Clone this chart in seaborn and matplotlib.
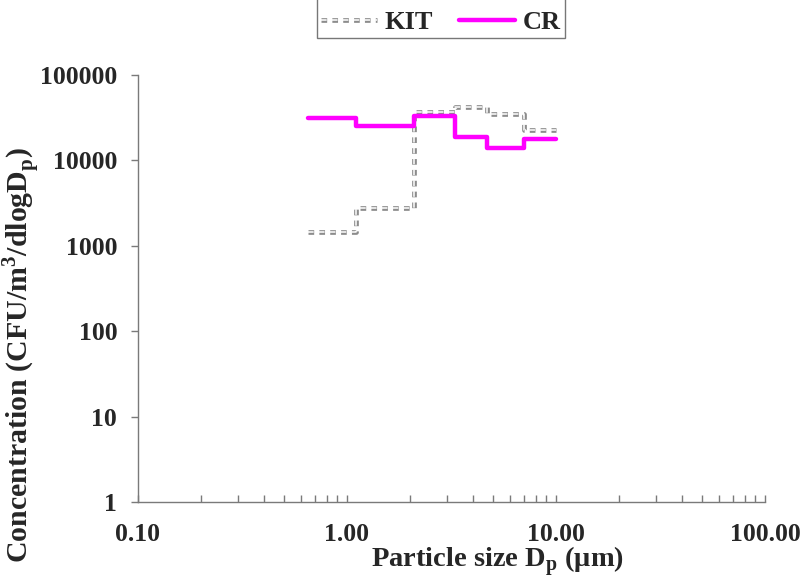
import matplotlib
matplotlib.use('Agg')
import matplotlib.pyplot as plt
import matplotlib.patheffects as pe
from matplotlib.ticker import FixedLocator, FuncFormatter, LogLocator, NullLocator
import pandas as pd
import seaborn as sns

# Bornes des étages (µm) et concentrations (CFU/m3/dlogDp)
bin_edges = [0.65, 1.1, 2.1, 3.3, 4.7, 7.0, 10.0]
kit_conc = [1450, 2800, 37000, 42000, 35000, 23000]
cr_conc = [31000, 25000, 33000, 19000, 14000, 18000]

x_ticks = [0.1, 1, 10, 100]
y_ticks = [1, 10, 100, 1000, 10000, 100000]

sns.set_style('white')
plt.rcParams['font.family'] = ['Liberation Serif', 'DejaVu Serif']
plt.rcParams['font.weight'] = 'bold'

# steps-post: on répète la dernière valeur pour fermer le dernier étage
df_kit = pd.DataFrame({'dp': bin_edges, 'conc': kit_conc + kit_conc[-1:]})
df_cr = pd.DataFrame({'dp': bin_edges, 'conc': cr_conc + cr_conc[-1:]})

fig = plt.figure(figsize=(8.02, 5.84), dpi=100)
ax = fig.add_axes([138 / 802, 1 - 502 / 584, (765 - 138) / 802, (502 - 75) / 584])

double = [pe.Stroke(linewidth=3.4, foreground='#8c8c8c'),
          pe.Stroke(linewidth=1.1, foreground='white')]
sns.lineplot(data=df_kit, x='dp', y='conc', ax=ax, drawstyle='steps-post',
             color='#8c8c8c', linewidth=3.4, dashes=False, linestyle=(0, (1.2, 1.1)),
             path_effects=double, label='KIT')
sns.lineplot(data=df_cr, x='dp', y='conc', ax=ax, drawstyle='steps-post',
             color='#ff00ff', linewidth=3.2, label='CR')

ax.set_xscale('log')
ax.set_yscale('log')
ax.set_xlim(0.1, 100)
ax.set_ylim(1, 100000)

ax.xaxis.set_major_locator(FixedLocator(x_ticks))
ax.xaxis.set_minor_locator(LogLocator(base=10, subs=range(2, 10)))
ax.xaxis.set_major_formatter(FuncFormatter(lambda v, p: f'{v:.2f}'))
ax.yaxis.set_major_locator(FixedLocator(y_ticks))
ax.yaxis.set_minor_locator(NullLocator())
ax.yaxis.set_major_formatter(FuncFormatter(lambda v, p: f'{int(v)}'))

axis_col = '#7a7a7a'
for side in ['top', 'right']:
    ax.spines[side].set_visible(False)
for side in ['left', 'bottom']:
    ax.spines[side].set_color(axis_col)
    ax.spines[side].set_linewidth(1.0)

ax.tick_params(axis='x', which='both', direction='in', length=5, width=1,
               color=axis_col, labelsize=18.5, pad=15, bottom=True)
ax.tick_params(axis='y', which='major', direction='out', length=5, width=1,
               color=axis_col, labelsize=18.5, pad=10, left=True)
for lab in ax.get_xticklabels() + ax.get_yticklabels():
    lab.set_fontweight('bold')

ax.set_xlabel(r'Particle size D$_\mathregular{p}$ (μm)', fontsize=20.5, fontweight='bold')
ax.set_ylabel(r'Concentration (CFU/m$^\mathregular{3}$/dlogD$_\mathregular{p}$)',
              fontsize=21.5, fontweight='bold')
ax.xaxis.set_label_coords(0.574, -0.1)
ax.yaxis.set_label_coords(-0.153, 0.344)

# titre vide: agrandit le cadre vers le haut pour que son bord supérieur sorte de l'image
leg = ax.legend(loc='lower center', bbox_to_anchor=(441 / 802, 1 - 38 / 584),
                bbox_transform=fig.transFigure, ncol=2, frameon=True, fancybox=False,
                edgecolor='#555555', fontsize=19, handlelength=2.1, columnspacing=1.0,
                handletextpad=0.3, borderpad=0.15, borderaxespad=0,
                title=' ', title_fontsize=14)
leg.get_frame().set_linewidth(1.0)
for t in leg.get_texts():
    t.set_fontweight('bold')

fig.savefig('out.png', dpi=100)
